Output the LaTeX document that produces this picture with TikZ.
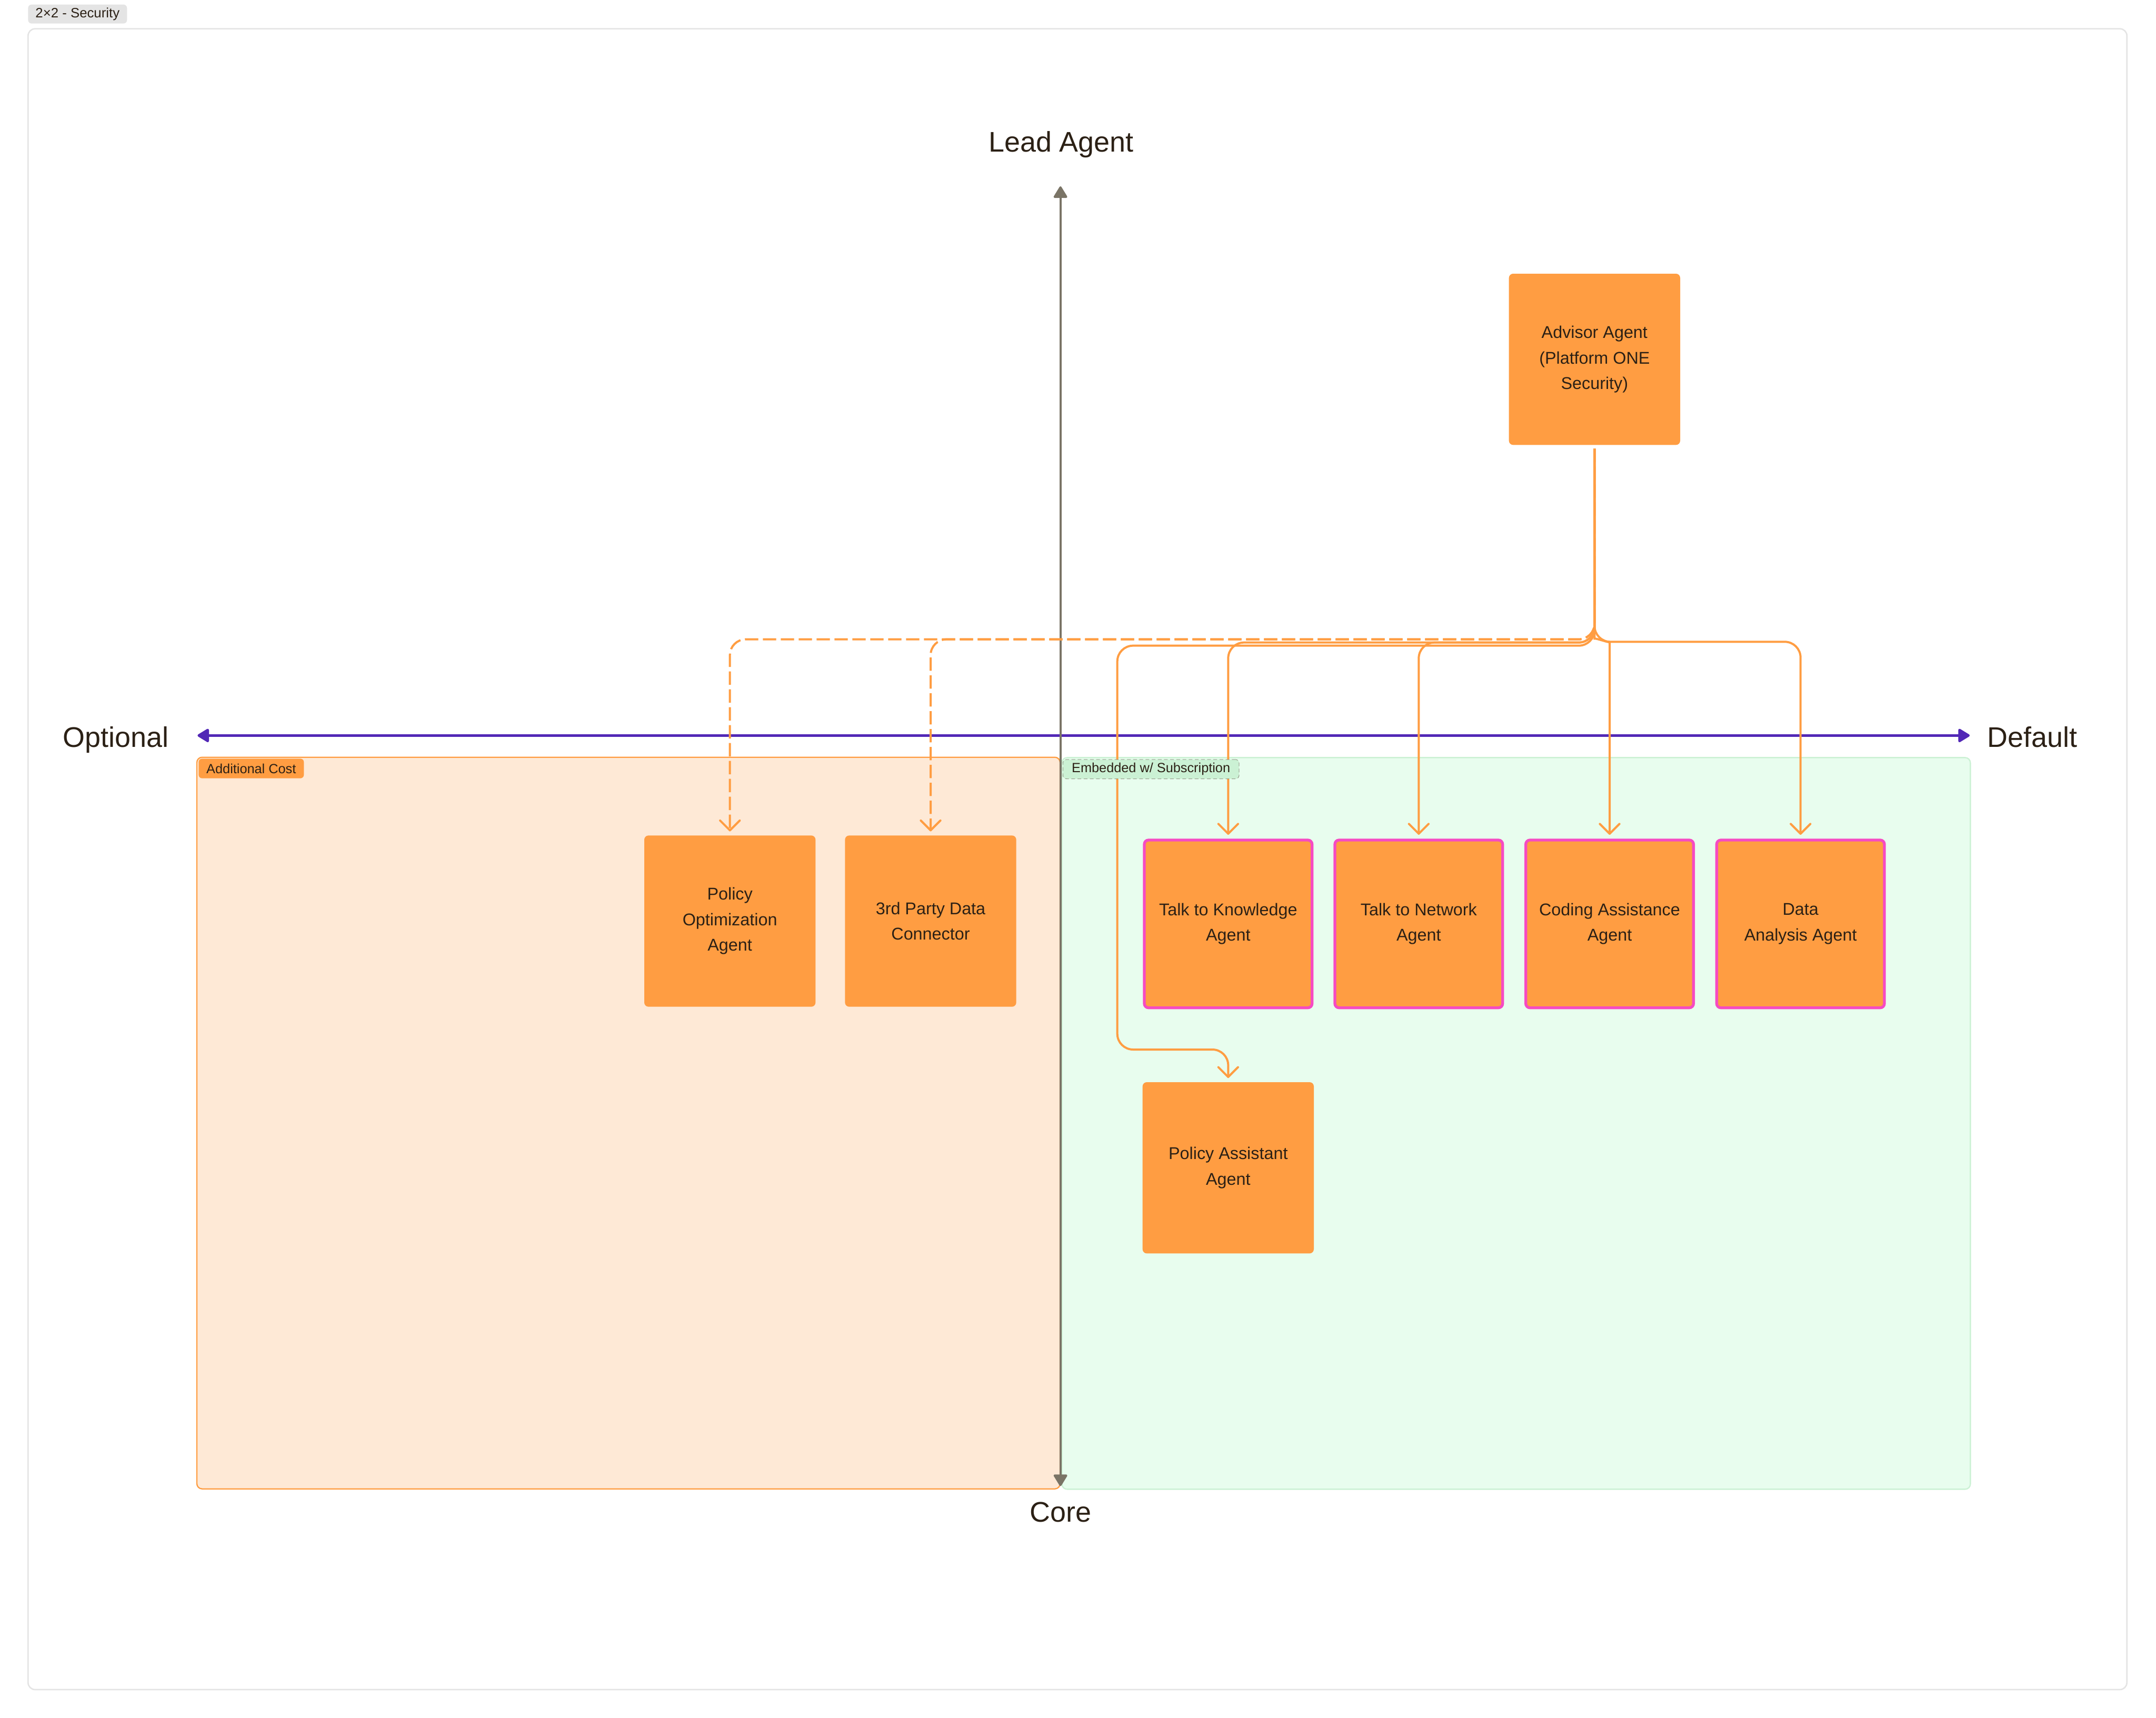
\documentclass[tikz,border=0pt]{standalone}
\usepackage{fontspec}
\setmainfont{Liberation Sans}
\usetikzlibrary{arrows.meta,positioning}

\definecolor{agentorange}{HTML}{FF9D42}
\definecolor{agentpink}{HTML}{F64BC2}
\definecolor{ink}{HTML}{2B2015}
\definecolor{axisgray}{HTML}{7A7466}
\definecolor{axispurple}{HTML}{5228B6}
\definecolor{costfill}{HTML}{FEE9D6}
\definecolor{subfill}{HTML}{E8FDEE}
\definecolor{subline}{HTML}{CBF1D4}
\definecolor{framegray}{HTML}{E4E4E4}

\tikzset{
  agent/.style={fill=agentorange, rounded corners=0.12cm, minimum width=4.88cm,
    minimum height=4.88cm, inner sep=0pt, align=center, text=ink,
    font=\fontsize{13.8}{20.7}\selectfont},
  embedded/.style={agent, draw=agentpink, line width=0.08cm,
    minimum width=4.78cm, minimum height=4.78cm},
  axislabel/.style={anchor=base, inner sep=0pt, text=ink, font=\fontsize{23}{27}\selectfont},
  chip/.style={rounded corners=0.1cm, inner sep=0pt, text=ink, font=\fontsize{10.8}{13}\selectfont},
  axistip/.tip={Triangle[length=0.36cm,width=0.42cm,round]},
  link/.style={draw=agentorange, line width=0.06cm, rounded corners=0.45cm,
    -{Straight Barb[length=0.28cm,width=0.56cm,round]},
    shorten <=0.1cm, shorten >=0.11cm},
  optlink/.style={link, dash pattern=on 0.38cm off 0.13cm},
}

\begin{document}
\begin{tikzpicture}
\useasboundingbox (0,0) rectangle (61.44,-48.96);

\draw[framegray, line width=0.04cm, rounded corners=0.2cm] (0.80,-0.82) rectangle (60.61,-48.15);
\node[chip, fill=framegray, minimum width=2.82cm, minimum height=0.54cm,
  font=\fontsize{11}{13}\selectfont] (title) at (2.21,-0.40) {2×2 - Security};

\draw[agentorange, fill=costfill, line width=0.035cm, rounded corners=0.15cm] (5.61,-21.58) rectangle (30.21,-42.43);
\draw[subline, fill=subfill, line width=0.035cm, rounded corners=0.15cm] (30.26,-21.59) rectangle (56.15,-42.44);

\coordinate (west) at (5.63,-20.96);
\coordinate (east) at (56.13,-20.96);
\coordinate (north) at (30.22,-5.31);
\coordinate (south) at (30.22,-42.35);
\draw[axispurple, line width=0.07cm, axistip-axistip] (west) -- (east);
\draw[axisgray, line width=0.06cm, axistip-axistip] (south) -- (north);

\node[axislabel] (lead) at (30.24,-4.33) {Lead Agent};
\node[axislabel] (core) at (30.23,-43.37) {Core};
\node[axislabel] (optional) at (3.30,-21.29) {Optional};
\node[axislabel] (default) at (57.92,-21.29) {Default};

\node[agent] (advisor) at (45.44,-10.24) {Advisor Agent\\(Platform ONE\\Security)};
\node[agent] (polopt) at (20.80,-26.25) {Policy\\Optimization\\Agent};
\node[agent] (party) at (26.52,-26.25) {3rd Party Data\\Connector};
\node[embedded] (knowledge) at (35.00,-26.33) {Talk to Knowledge\\Agent};
\node[embedded] (network) at (40.43,-26.33) {Talk to Network\\Agent};
\node[embedded] (coding) at (45.87,-26.33) {Coding Assistance\\Agent};
\node[embedded] (data) at (51.31,-26.33) {Data\\Analysis Agent};
\node[agent] (polassist) at (35.00,-33.28) {Policy Assistant\\Agent};

\draw[optlink] (advisor.south) |- (20.80,-18.22) -- (polopt.north);
\draw[optlink] (advisor.south) |- (26.52,-18.22) -- (party.north);
\draw[link] (advisor.south) |- (31.84,-18.40) |- (35.00,-29.91) -- (polassist.north);
\draw[link] (advisor.south) |- (35.00,-18.31) -- (knowledge.north);
\draw[link] (advisor.south) |- (40.43,-18.31) -- (network.north);
\draw[link] (advisor.south) -- (45.44,-17.75) to[out=-90,in=90] (45.87,-18.75) -- (coding.north);
\draw[link] (advisor.south) |- (51.31,-18.29) -- (data.north);

\node[chip, fill=agentorange, minimum width=3.00cm, minimum height=0.56cm] (cost) at (7.16,-21.90) {Additional Cost};
\node[chip, fill=subline, draw=axisgray, densely dashed, line width=0.01cm,
  minimum width=5.02cm, minimum height=0.55cm] (sub) at (32.80,-21.92) {Embedded w/ Subscription};
\end{tikzpicture}
\end{document}
